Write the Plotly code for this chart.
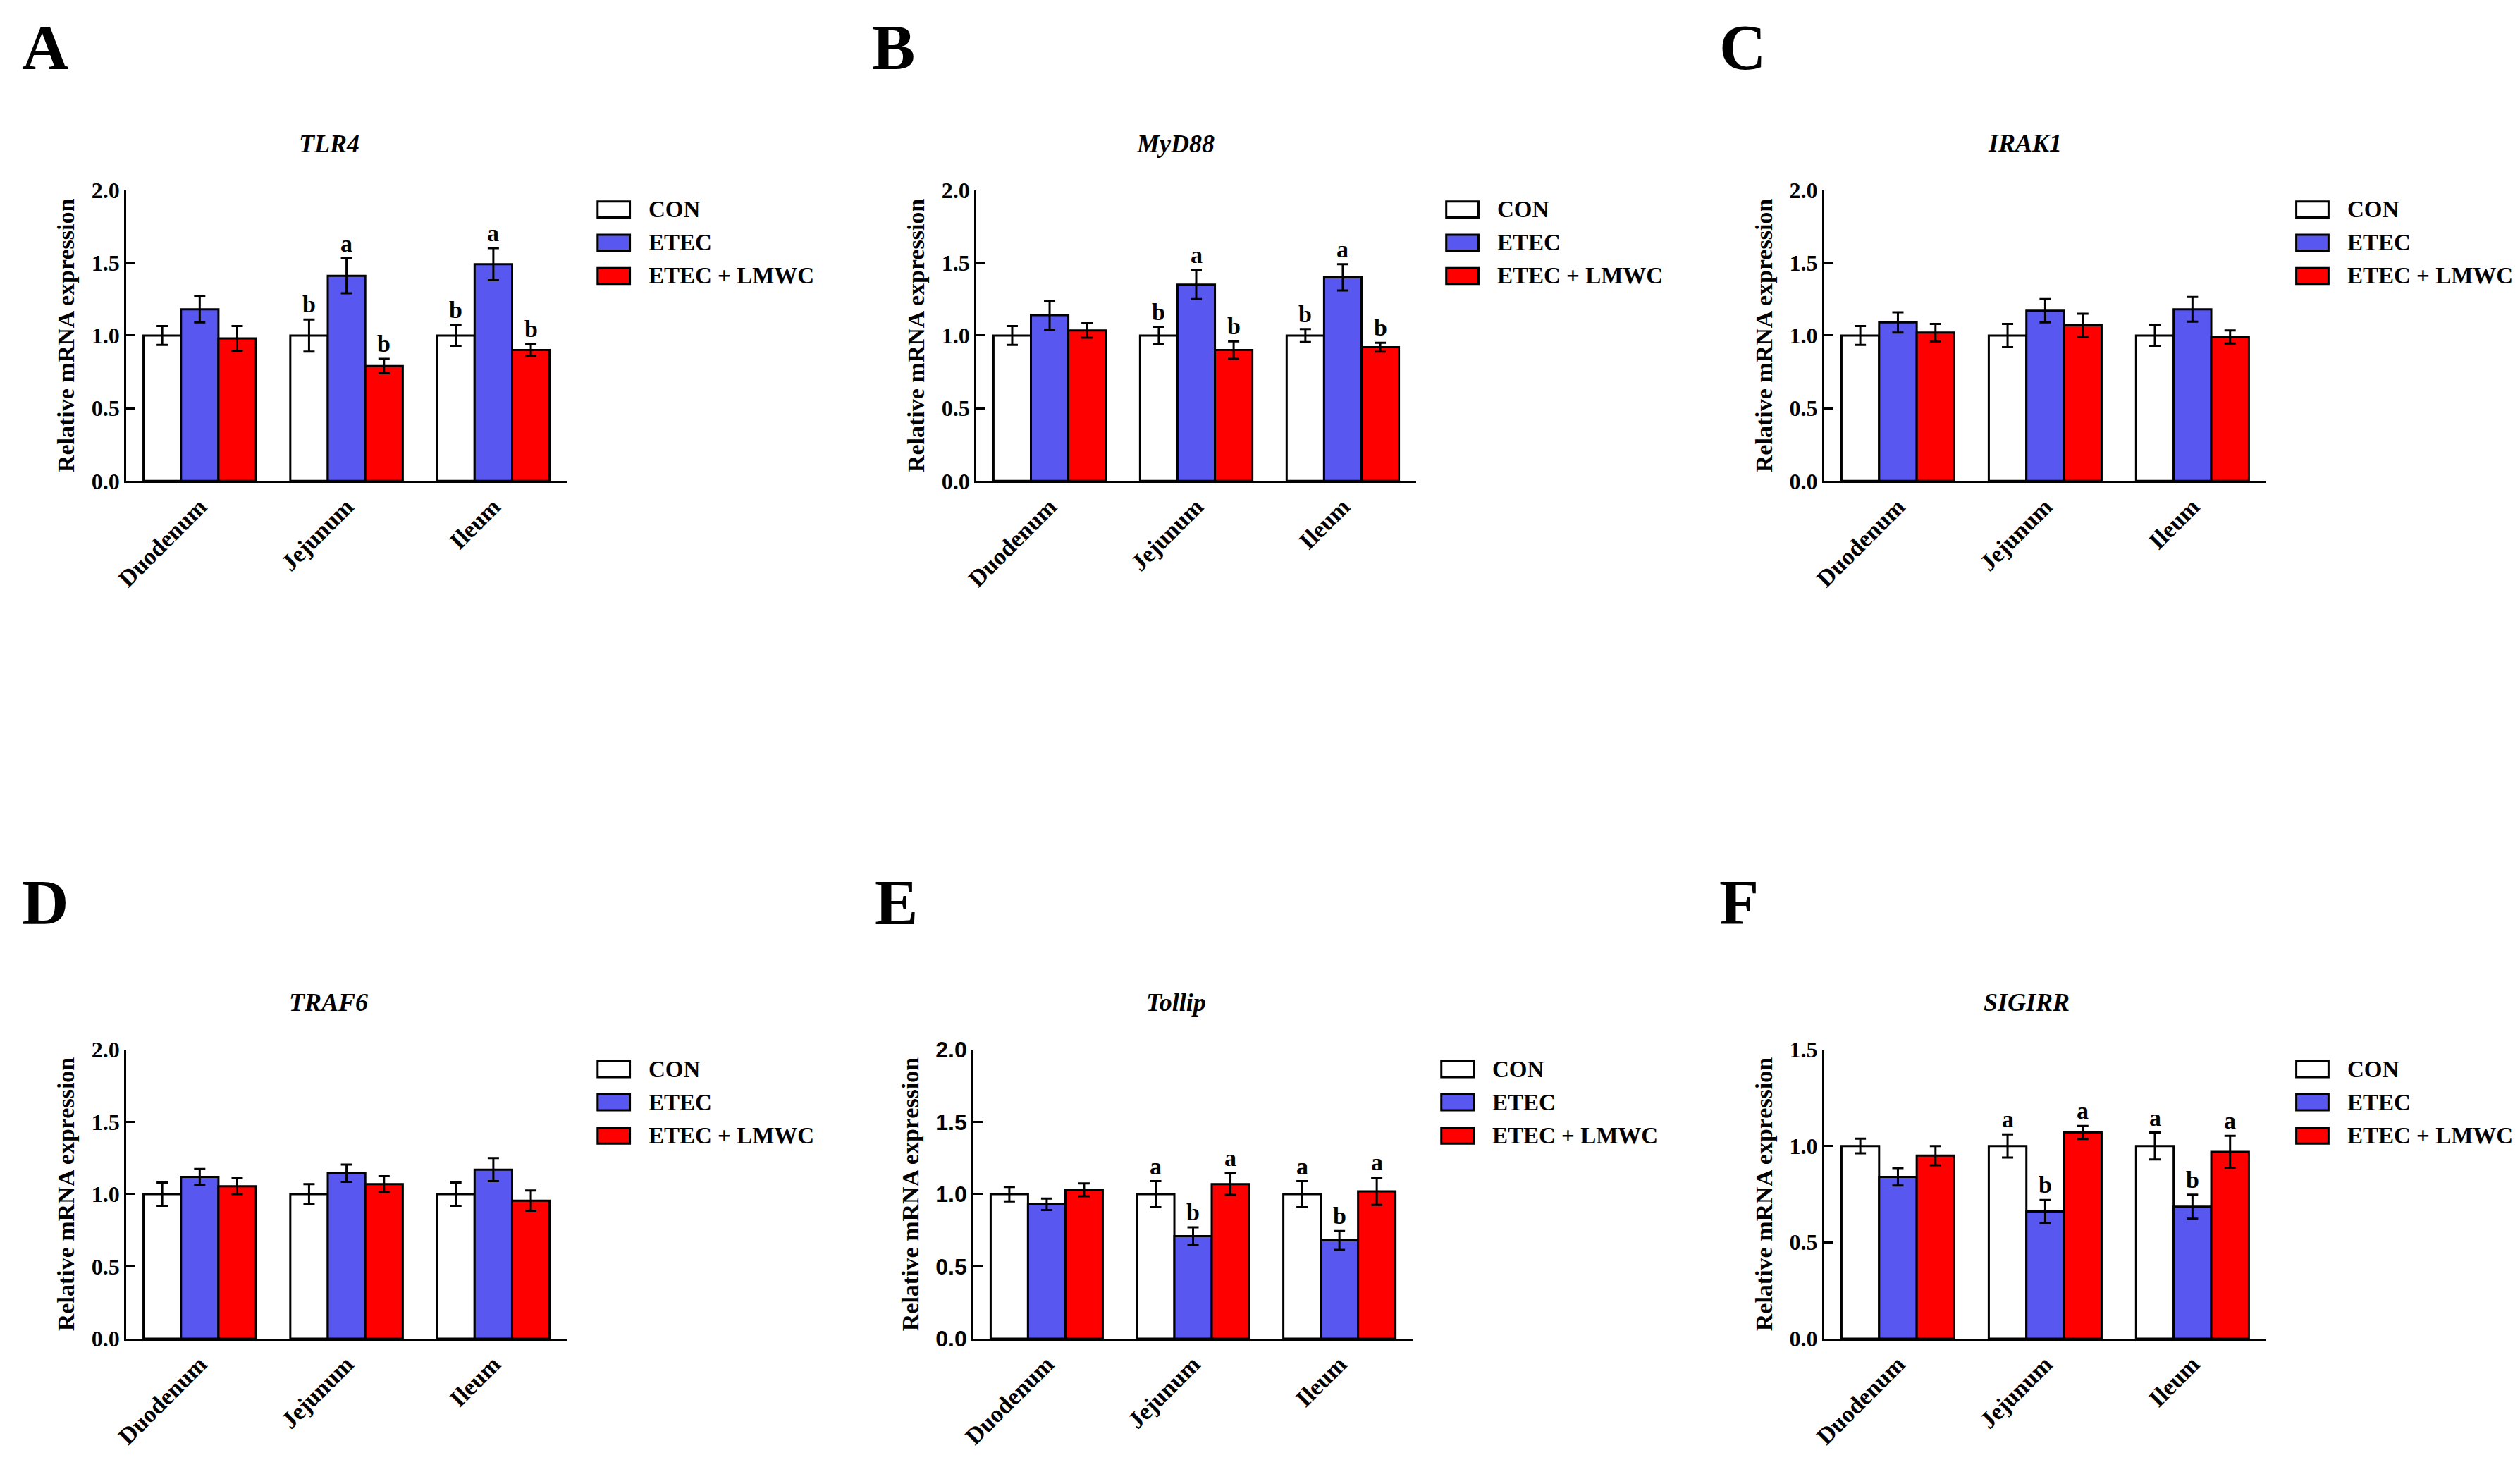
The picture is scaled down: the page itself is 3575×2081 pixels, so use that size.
import plotly.graph_objects as go

# ---------------- data ----------------
categories = ["Duodenum", "Jejunum", "Ileum"]
groups = ["CON", "ETEC", "ETEC + LMWC"]
gene_names = ["TLR4", "MyD88", "IRAK1", "TRAF6", "Tollip", "SIGIRR"]
panel_letters = ["A", "B", "C", "D", "E", "F"]
y_ticks_default = [0.0, 0.5, 1.0, 1.5, 2.0]
y_ticks_sigirr = [0.0, 0.5, 1.0, 1.5]

# means: rows = CON, ETEC, ETEC + LMWC ; columns = Duodenum, Jejunum, Ileum
tlr4_means = [[1.00, 1.00, 1.00], [1.18, 1.41, 1.49], [0.98, 0.79, 0.90]]
tlr4_errs = [[0.065, 0.11, 0.07], [0.09, 0.12, 0.11], [0.085, 0.05, 0.04]]
tlr4_letters = [["", "b", "b"], ["", "a", "a"], ["", "b", "b"]]

myd88_means = [[1.00, 1.00, 1.00], [1.14, 1.35, 1.40], [1.035, 0.90, 0.92]]
myd88_errs = [[0.065, 0.06, 0.045], [0.10, 0.10, 0.09], [0.05, 0.06, 0.03]]
myd88_letters = [["", "b", "b"], ["", "a", "a"], ["", "b", "b"]]

irak1_means = [[1.00, 1.00, 1.00], [1.09, 1.17, 1.18], [1.02, 1.07, 0.99]]
irak1_errs = [[0.065, 0.08, 0.07], [0.07, 0.08, 0.085], [0.06, 0.08, 0.045]]
irak1_letters = [["", "", ""], ["", "", ""], ["", "", ""]]

traf6_means = [[1.00, 1.00, 1.00], [1.12, 1.145, 1.17], [1.055, 1.07, 0.955]]
traf6_errs = [[0.08, 0.07, 0.08], [0.055, 0.06, 0.08], [0.055, 0.055, 0.07]]
traf6_letters = [["", "", ""], ["", "", ""], ["", "", ""]]

tollip_means = [[1.00, 1.00, 1.00], [0.93, 0.71, 0.68], [1.03, 1.07, 1.02]]
tollip_errs = [[0.05, 0.09, 0.09], [0.04, 0.06, 0.065], [0.045, 0.075, 0.095]]
tollip_letters = [["", "a", "a"], ["", "b", "b"], ["", "a", "a"]]

sigirr_means = [[1.00, 1.00, 1.00], [0.84, 0.66, 0.685], [0.95, 1.07, 0.97]]
sigirr_errs = [[0.038, 0.06, 0.07], [0.045, 0.06, 0.062], [0.05, 0.034, 0.083]]
sigirr_letters = [["", "a", "a"], ["", "b", "b"], ["", "a", "a"]]

# ---------------- style / layout ----------------
W, H = 3575, 2081
SERIF = "Liberation Serif"
SANS = "Liberation Sans"
colors = ["#FFFFFF", "#5858F0", "#FF0000"]
BARGAP = 0.234

def fx(px):
    return px / W

def fy(py):
    return 1 - py / H

# pixel geometry of each panel: axis left, axis right, top, bottom, legend box left,
# legend text left, title centre x, title y, letter x, letter y
panels = [
    dict(means=tlr4_means, errs=tlr4_errs, letters=tlr4_letters, ticks=y_ticks_default,
         l=162, r=790, t=256, b=676, lg=834, lt=905, tc=451, ty=189, lx=11, ly=50, tickfont=SERIF),
    dict(means=myd88_means, errs=myd88_errs, letters=myd88_letters, ticks=y_ticks_default,
         l=1374, r=2001, t=256, b=676, lg=2044, lt=2115, tc=1658, ty=189, lx=1223, ly=50, tickfont=SERIF),
    dict(means=irak1_means, errs=irak1_errs, letters=irak1_letters, ticks=y_ticks_default,
         l=2583, r=3213, t=256, b=676, lg=3256, lt=3327, tc=2869, ty=188, lx=2431, ly=50, tickfont=SERIF),
    dict(means=traf6_means, errs=traf6_errs, letters=traf6_letters, ticks=y_ticks_default,
         l=162, r=790, t=1497, b=1914, lg=834, lt=905, tc=450, ty=1429, lx=11, ly=1284, tickfont=SERIF),
    dict(means=tollip_means, errs=tollip_errs, letters=tollip_letters, ticks=y_ticks_default,
         l=1370, r=1996, t=1497, b=1914, lg=2037, lt=2108, tc=1659, ty=1429, lx=1227, ly=1284, tickfont=SANS),
    dict(means=sigirr_means, errs=sigirr_errs, letters=sigirr_letters, ticks=y_ticks_sigirr,
         l=2583, r=3213, t=1497, b=1914, lg=3256, lt=3327, tc=2871, ty=1429, lx=2431, ly=1284, tickfont=SERIF),
]

fig = go.Figure()
annotations = []
shapes = []
layout_axes = {}

bw = (1 - BARGAP) / 3

for k, p in enumerate(panels):
    n = "" if k == 0 else str(k + 1)
    xa, ya = "x" + n, "y" + n
    for g in range(3):
        fig.add_trace(go.Bar(
            x=categories, y=p["means"][g], name=groups[g],
            xaxis=xa, yaxis=ya, showlegend=False,
            marker=dict(color=colors[g], line=dict(color="black", width=3)),
            error_y=dict(type="data", array=p["errs"][g], visible=True,
                         color="black", thickness=3, width=8),
        ))
        for c in range(3):
            txt = p["letters"][g][c]
            if txt:
                annotations.append(dict(
                    x=c + (g - 1) * bw, y=p["means"][g][c] + p["errs"][g][c],
                    xref=xa, yref=ya, text=txt, showarrow=False,
                    yanchor="bottom", xanchor="center", yshift=1,
                    font=dict(family=SERIF, size=34, color="black", weight="bold"),
                ))
    layout_axes["xaxis" + n] = dict(
        domain=[fx(p["l"]), fx(p["r"])], anchor=ya, type="category",
        range=[-0.5, 2.5], showline=True, linecolor="black", linewidth=3,
        ticks="", tickangle=-45, showgrid=False, zeroline=False,
        tickfont=dict(family=SERIF, size=34, color="black", weight="bold"),
    )
    layout_axes["yaxis" + n] = dict(
        domain=[fy(p["b"]), fy(p["t"])], anchor=xa,
        range=[0, p["ticks"][-1]], tickvals=p["ticks"], tickformat=".1f",
        showline=True, linecolor="black", linewidth=3,
        ticks="inside", ticklen=13, tickwidth=3, tickcolor="black",
        showgrid=False, zeroline=False,
        tickfont=dict(family=p["tickfont"], size=32, color="black", weight="bold"),
        title=dict(text="Relative mRNA expression", standoff=14,
                   font=dict(family=SERIF, size=34, color="black", weight="bold")),
    )
    # panel title
    annotations.append(dict(
        x=fx(p["tc"]), y=fy(p["ty"]), xref="paper", yref="paper",
        text=gene_names[k], showarrow=False, xanchor="center", yanchor="middle",
        font=dict(family=SERIF, size=36, color="black", weight="bold", style="italic"),
    ))
    # panel letter
    annotations.append(dict(
        x=fx(p["lx"]), y=fy(p["ly"]), xref="paper", yref="paper",
        text=panel_letters[k], showarrow=False, xanchor="left", yanchor="middle",
        font=dict(family=SERIF, size=92, color="black", weight="bold"),
    ))
    # legend
    for g in range(3):
        cy = p["t"] + 28 + 48 * g
        shapes.append(dict(
            type="rect", xref="paper", yref="paper",
            x0=fx(p["lg"]), x1=fx(p["lg"] + 46), y0=fy(cy - 11.5), y1=fy(cy + 11.5),
            fillcolor=colors[g], line=dict(color="black", width=3),
        ))
        annotations.append(dict(
            x=fx(p["lt"]), y=fy(cy), xref="paper", yref="paper",
            text=groups[g], showarrow=False, xanchor="left", yanchor="middle",
            font=dict(family=SERIF, size=33, color="black", weight="bold"),
        ))

fig.update_layout(
    width=W, height=H, margin=dict(l=0, r=0, t=0, b=0),
    paper_bgcolor="white", plot_bgcolor="white",
    barmode="group", bargap=BARGAP, bargroupgap=0,
    annotations=annotations, shapes=shapes, showlegend=False,
    **layout_axes,
)

fig.write_html("out.html", config={"displayModeBar": False},
               post_script="document.body.style.margin='0';")
